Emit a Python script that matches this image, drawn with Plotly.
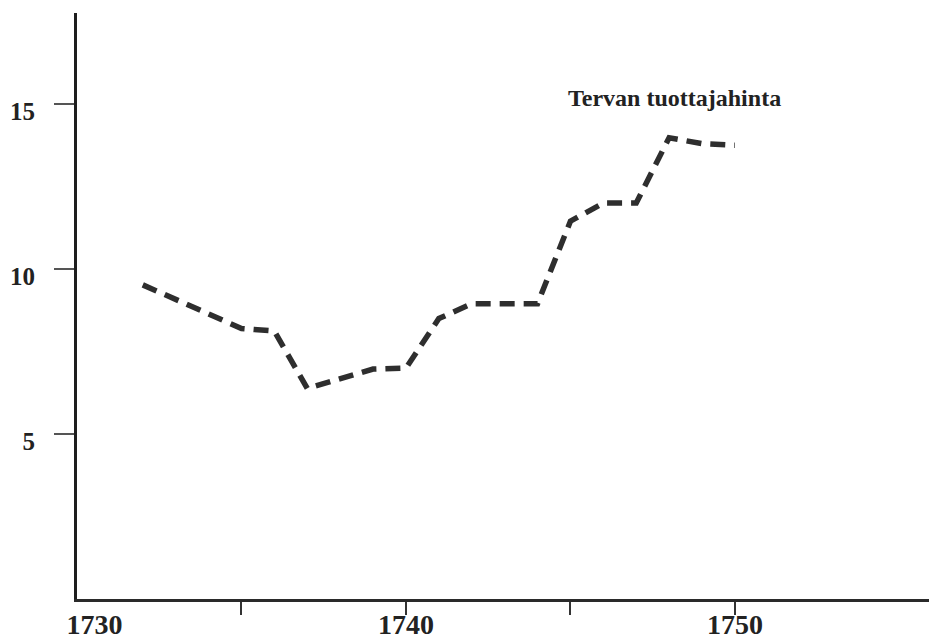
import plotly.graph_objects as go

# Producer price of tar, by year
years = [1732, 1735, 1736, 1737, 1739, 1740, 1741, 1742, 1744, 1745, 1746, 1747, 1748, 1749, 1750]
price = [9.52, 8.2, 8.12, 6.38, 6.97, 7.0, 8.5, 8.95, 8.95, 11.45, 12.0, 12.0, 13.98, 13.8, 13.75]

x_labelvals = [1730, 1740, 1750]
x_labeltext = ["\u00a0\u00a0\u00a0\u00a0\u00a01730", "1740", "1750"]
x_tickmarks = [1735, 1740, 1745, 1750]
y_tickvals = [5, 10, 15]
y_ticktext = ["5", "10", "15"]

series_label = "Tervan tuottajahinta"

serif = "Liberation Serif, Times New Roman, serif"

fig = go.Figure()
fig.add_trace(go.Scatter(
    x=years, y=price, mode="lines",
    line=dict(color="#2e2e2e", width=5.5, dash="15px,9px"),
    showlegend=False, hoverinfo="skip",
))

fig.add_annotation(
    x=1748.15, y=15.18, xref="x", yref="y",
    text=series_label, showarrow=False,
    xanchor="center", yanchor="middle",
    font=dict(family=serif, size=24, color="#222", weight="bold"),
)

fig.update_layout(
    width=929, height=639,
    margin=dict(l=77, r=0, t=13, b=40),
    paper_bgcolor="white", plot_bgcolor="white",
)
fig.update_xaxes(
    range=[1730, 1755.9], showgrid=False, zeroline=False,
    showline=True, linecolor="#2a2a2a", linewidth=3,
    tickmode="array", tickvals=x_labelvals, ticktext=x_labeltext,
    ticks="", ticklabelstandoff=-2,
    minor=dict(tickmode="array", tickvals=x_tickmarks, ticks="outside",
               ticklen=13, tickwidth=2, tickcolor="#333", showgrid=False),
    tickfont=dict(family=serif, size=28, color="#222", weight="bold"),
)
fig.update_yaxes(
    range=[0, 17.76], showgrid=False, zeroline=False,
    showline=True, linecolor="#1e1e1e", linewidth=3,
    tickmode="array", tickvals=y_tickvals, ticktext=y_ticktext,
    ticks="outside", ticklen=20, tickwidth=2, tickcolor="#555",
    ticklabelstandoff=14, ticklabelshift=7,
    tickfont=dict(family=serif, size=25, color="#222", weight="bold"),
)

fig.write_html("out.html")
